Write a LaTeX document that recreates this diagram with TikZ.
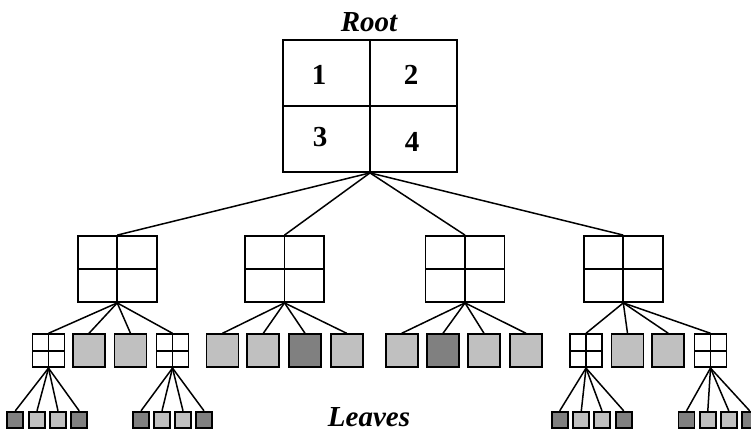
\documentclass[tikz,border=0pt]{standalone}
\usepackage{fontspec}
\setmainfont{Liberation Serif}
\definecolor{lightcell}{HTML}{C0C0C0}
\definecolor{darkcell}{HTML}{808080}
\begin{document}
\begin{tikzpicture}[x=1pt,y=-1pt,
  box/.style={draw=black,line width=1.8pt,rectangle,inner sep=0pt},
  quad/.style={box,fill=white,path picture={
      \draw[line width=1.8pt] (path picture bounding box.north) -- (path picture bounding box.south)
                              (path picture bounding box.west) -- (path picture bounding box.east);}},
  rootbox/.style={quad,minimum width=174pt,minimum height=132pt},
  midbox/.style={quad,minimum width=79pt,minimum height=66pt},
  smallquad/.style={quad,minimum width=32pt,minimum height=33pt},
  lightbox/.style={box,fill=lightcell,minimum width=32pt,minimum height=33pt},
  darkbox/.style={box,fill=darkcell,minimum width=32pt,minimum height=33pt},
  lightleaf/.style={box,fill=lightcell,minimum width=16pt,minimum height=16.5pt},
  darkleaf/.style={box,fill=darkcell,minimum width=16pt,minimum height=16.5pt},
  edge/.style={line width=1.5pt},
  title/.style={font=\fontsize{29}{31}\selectfont\bfseries\itshape,anchor=base,inner sep=0pt},
  digit/.style={font=\fontsize{29}{31}\selectfont\bfseries,inner sep=0pt}]
\useasboundingbox (0,0) rectangle (751,431);
\clip (0,0) rectangle (751,431);

% root node with its four quadrants
\node[rootbox] (r) at (370,106) {};
\node[digit] (d1) at (319,75) {1};
\node[digit] (d2) at (411,75) {2};
\node[digit] (d3) at (320,137) {3};
\node[digit] (d4) at (412,142) {4};
\node[title] (roottitle) at (369,31) {Root};

% second level
\node[midbox] (a) at (117.2,269) {};
\node[midbox] (b) at (284.5,269) {};
\node[midbox] (c) at (465,269) {};
\node[midbox] (d) at (623.3,269) {};

% third level
\node[smallquad] (a1) at (48.5,350.7) {};
\node[lightbox]  (a2) at (89,350.7) {};
\node[lightbox]  (a3) at (130.5,350.7) {};
\node[smallquad] (a4) at (172.5,350.7) {};

\node[lightbox] (b1) at (222.5,350.7) {};
\node[lightbox] (b2) at (263.3,350.7) {};
\node[darkbox]  (b3) at (305,350.7) {};
\node[lightbox] (b4) at (346.7,350.7) {};

\node[lightbox] (c1) at (401.7,350.7) {};
\node[darkbox]  (c2) at (443,350.7) {};
\node[lightbox] (c3) at (484,350.7) {};
\node[lightbox] (c4) at (526,350.7) {};

\node[smallquad] (d1q) at (586,350.7) {};
\node[lightbox]  (d2q) at (627.5,350.7) {};
\node[lightbox]  (d3q) at (668.3,350.7) {};
\node[smallquad] (d4q) at (710.5,350.7) {};

% leaves
\node[darkleaf]  (a1l1) at (15.3,420) {};
\node[lightleaf] (a1l2) at (37,420) {};
\node[lightleaf] (a1l3) at (58,420) {};
\node[darkleaf]  (a1l4) at (79.2,420) {};

\node[darkleaf]  (a4l1) at (141,420) {};
\node[lightleaf] (a4l2) at (162,420) {};
\node[lightleaf] (a4l3) at (183,420) {};
\node[darkleaf]  (a4l4) at (204,420) {};

\node[darkleaf]  (d1l1) at (559.7,420) {};
\node[lightleaf] (d1l2) at (581.3,420) {};
\node[lightleaf] (d1l3) at (602,420) {};
\node[darkleaf]  (d1l4) at (623.7,420) {};

\node[darkleaf]  (d4l1) at (686.5,420) {};
\node[lightleaf] (d4l2) at (707.8,420) {};
\node[lightleaf] (d4l3) at (728.8,420) {};
\node[darkleaf]  (d4l4) at (749.7,420) {};

\node[title] (leavestitle) at (369,426) {Leaves};

% connectors
\foreach \c in {a,b,c,d} \draw[edge] (r.south) -- (\c.north);
\foreach \p/\k in {a/a,b/b,c/c} {
  \foreach \i in {1,...,4} \draw[edge] (\p.south) -- (\k\i.north);
}
\foreach \i in {1,...,4} \draw[edge] (d.south) -- (d\i q.north);
\foreach \q/\n in {a1/a1,a4/a4,d1q/d1,d4q/d4} {
  \foreach \i in {1,...,4} \draw[edge] (\q.south) -- (\n l\i.north);
}
\end{tikzpicture}
\end{document}
